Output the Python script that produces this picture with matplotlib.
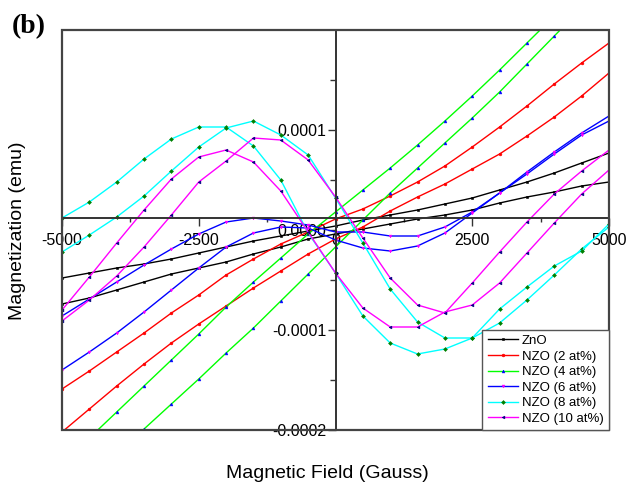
"""M-H loops of ZnO and Ni-doped ZnO films, panel (b)."""

import matplotlib

matplotlib.use("Agg")
import matplotlib.pyplot as plt
from matplotlib.patches import Rectangle
from matplotlib.ticker import FixedLocator, FuncFormatter

plt.rcParams["font.family"] = ["Liberation Sans", "DejaVu Sans"]

# field values (Gauss)
field = [-5000, -4500, -4000, -3500, -3000, -2500, -2000, -1500, -1000, -500, 0,
         500, 1000, 1500, 2000, 2500, 3000, 3500, 4000, 4500, 5000]

# magnetization, units of 1e-5 emu; two branches per sample
zno_a = [-4.8, -4.3, -3.8, -3.4, -2.9, -2.3, -1.7, -1.1, -0.6, -0.1, 0.4,
         1.0, 1.5, 2.0, 2.6, 3.2, 4.0, 4.8, 5.7, 6.7, 7.7]
zno_b = [-7.4, -6.8, -6.0, -5.2, -4.4, -3.8, -3.2, -2.4, -1.7, -0.9, -0.4,
         0.1, 0.6, 1.1, 1.5, 2.0, 2.7, 3.3, 3.8, 4.4, 4.8]
nzo2_a = [-15.9, -14.1, -12.2, -10.3, -8.3, -6.5, -4.5, -2.9, -1.4, -0.2, 1.1,
          2.1, 3.4, 4.8, 6.4, 8.3, 10.3, 12.4, 14.6, 16.7, 18.7]
nzo2_b = [-20.2, -17.9, -15.6, -13.4, -11.3, -9.4, -7.6, -5.8, -4.1, -2.4, -0.9,
          0.3, 1.9, 3.3, 4.6, 6.1, 7.6, 9.4, 11.3, 13.4, 15.7]
nzo4_a = [-23.4, -20.8, -18.2, -15.6, -13.0, -10.4, -7.7, -5.2, -2.8, -0.4, 1.8,
          4.0, 6.2, 8.5, 10.9, 13.4, 16.0, 18.7, 21.4, 24.1, 26.8]
nzo4_b = [-27.4, -24.9, -22.4, -19.9, -17.4, -14.9, -12.3, -9.8, -7.1, -4.4, -1.7,
          1.0, 3.7, 6.2, 8.7, 11.2, 13.8, 16.6, 19.4, 22.2, 25.0]
nzo6_a = [-8.6, -6.9, -5.2, -3.5, -1.9, -0.4, 0.8, 1.2, 0.9, 0.5, -0.2,
          -0.2, -0.6, -0.6, 0.3, 1.8, 3.7, 5.8, 7.8, 9.7, 11.4]
nzo6_b = [-14.0, -12.2, -10.3, -8.2, -6.0, -3.8, -1.7, -0.3, 0.3, 0.2, -1.0,
          -1.8, -2.1, -1.6, -0.3, 1.7, 3.7, 5.6, 7.6, 9.5, 10.9]
nzo8_a = [1.2, 2.8, 4.8, 7.1, 9.1, 10.3, 10.3, 8.4, 5.0, -0.3, -4.3,
          -8.6, -11.3, -12.4, -11.9, -10.8, -9.3, -7.0, -4.5, -1.9, 0.3]
nzo8_b = [-2.2, -0.5, 1.3, 3.4, 5.9, 8.3, 10.2, 10.9, 9.5, 7.5, 3.2,
          -1.3, -5.9, -9.2, -10.8, -10.8, -7.9, -5.7, -3.6, -2.1, 0.6]
nzo10_a = [-8.0, -4.7, -1.3, 2.0, 5.1, 7.3, 8.0, 6.8, 3.9, -0.2, -4.3,
           -7.8, -9.7, -9.7, -8.2, -7.5, -5.3, -2.3, 0.7, 3.6, 6.0]
nzo10_b = [-9.1, -7.0, -4.6, -1.7, 1.5, 4.8, 6.9, 9.2, 9.0, 7.0, 3.3,
           -0.8, -4.8, -7.5, -8.3, -5.3, -2.2, 0.8, 3.6, 5.9, 8.0]

labels = ["ZnO", "NZO (2 at%)", "NZO (4 at%)", "NZO (6 at%)", "NZO (8 at%)", "NZO (10 at%)"]
branches = [(zno_a, zno_b), (nzo2_a, nzo2_b), (nzo4_a, nzo4_b),
            (nzo6_a, nzo6_b), (nzo8_a, nzo8_b), (nzo10_a, nzo10_b)]

line_colors = ["#000000", "#ff0000", "#00ff00", "#0000ff", "#00ffff", "#ff00ff"]
marker_colors = ["#000000", "#ff0000", "#0000ff", "#ff00ff", "#008000", "#000080"]
markers = ["s", "o", "^", "v", "D", "<"]

fig = plt.figure(figsize=(6.27, 4.82), dpi=100)
ax = fig.add_axes([62 / 627, 1 - 430 / 482, 547 / 627, 400 / 482])

for (ya, yb), lab, lc, mc, mk in zip(branches, labels, line_colors, marker_colors, markers):
    for i, ys in enumerate((ya, yb)):
        ax.plot(field, [v * 1e-5 for v in ys], color=lc, lw=1.0,
                marker=mk, ms=2.0, mfc=mc, mec=mc, mew=0.4,
                label=lab if i == 0 else None)

ax.set_xlim(-5000, 5000)
ax.set_ylim(-2e-4, 2e-4)

# axes crossing near the origin, Origin style
ax.spines["left"].set_position(("data", 0))
ax.spines["bottom"].set_position(("data", 1.2e-5))
for s in ("left", "bottom"):
    ax.spines[s].set_linewidth(1.4)
    ax.spines[s].set_color("#333333")
ax.spines["top"].set_visible(False)
ax.spines["right"].set_visible(False)
ax.add_patch(Rectangle((0, 0), 1, 1, transform=ax.transAxes, fill=False,
                       lw=1.6, ec="#444444", clip_on=False, zorder=5))

ax.xaxis.set_major_locator(FixedLocator([-5000, -2500, 0, 2500, 5000]))
ax.xaxis.set_minor_locator(FixedLocator([-3750, -1250, 1250, 3750]))
ax.yaxis.set_major_locator(FixedLocator([-2e-4, -1e-4, 0, 1e-4]))
ax.yaxis.set_minor_locator(FixedLocator([-1.5e-4, -0.5e-4, 0.5e-4, 1.5e-4]))
ax.xaxis.set_major_formatter(FuncFormatter(lambda v, p: f"{v:.0f}"))
ax.yaxis.set_major_formatter(FuncFormatter(lambda v, p: f"{v:.4f}"))

ax.tick_params(axis="x", which="major", length=6, width=1.0, pad=5, labelsize=11.5, color="#333333")
ax.tick_params(axis="x", which="minor", length=3, width=1.0, color="#333333")
ax.tick_params(axis="y", which="major", length=6, width=1.0, pad=0.5, labelsize=11.5, color="#333333")
ax.tick_params(axis="y", which="minor", length=4, width=1.0, color="#333333")

fig.text(327 / 627, 1 - 474 / 482, "Magnetic Field (Gauss)", ha="center", va="center", fontsize=14)
fig.text(18 / 627, 1 - 231 / 482, "Magnetization (emu)", ha="center", va="center",
         rotation=90, fontsize=14)
fig.text(29 / 627, 1 - 27 / 482, "(b)", ha="center", va="center", fontsize=20,
         fontweight="bold", family="Liberation Serif")

leg = ax.legend(loc="lower right", bbox_to_anchor=(1, 0), borderaxespad=0,
                fontsize=9.5, frameon=True, fancybox=False, framealpha=1,
                edgecolor="#555555", handlelength=2.3, handletextpad=0.3,
                labelspacing=0.25, borderpad=0.4, markerscale=1.0)
leg.get_frame().set_linewidth(1.0)

fig.savefig("out.png", dpi=100)
